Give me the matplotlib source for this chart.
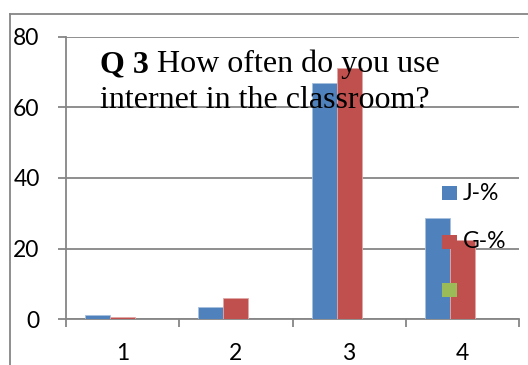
import matplotlib
matplotlib.use("Agg")
import matplotlib.pyplot as plt
import numpy as np
from matplotlib.lines import Line2D
from matplotlib.patches import Rectangle

categories = ["1", "2", "3", "4"]
j_pct = [1.2, 3.3, 66.9, 28.7]
g_pct = [0.6, 6.0, 71.1, 22.5]
series_names = ["J-%", "G-%", ""]
colors = ["#4F81BD", "#C0504D", "#9BBB59"]
y_ticks = [0, 20, 40, 60, 80]

W, H = 528, 365
fig = plt.figure(figsize=(W / 100, H / 100), dpi=100)
fig.patch.set_facecolor("white")

grid_col = "#868686"
ax = fig.add_axes([66 / W, 1 - 319 / H, (519 - 66) / W, (319 - 37) / H])
ax.set_xlim(0.5, 4.5)
ax.set_ylim(0, 80)

x = np.arange(1, len(categories) + 1)
bw = 25 / 113.3
ax.bar(x - bw, j_pct, width=bw, color=colors[0], edgecolor="#A7BFDE", linewidth=0.6, zorder=3)
ax.bar(x, g_pct, width=bw, color=colors[1], edgecolor="#DFA7A6", linewidth=0.6, zorder=3)

for s in ["top", "right"]:
    ax.spines[s].set_visible(False)
for s in ["left", "bottom"]:
    ax.spines[s].set_color(grid_col)
    ax.spines[s].set_linewidth(1.3)

ax.set_yticks(y_ticks)
ax.set_yticklabels([str(v) for v in y_ticks], fontname="Lato", fontsize=16.5)
ax.yaxis.grid(True, color=grid_col, linewidth=1.3, zorder=0)
ax.set_axisbelow(True)
ax.tick_params(axis="y", direction="out", length=6, width=1.3, color=grid_col, pad=13)

ax.set_xticks(x)
ax.set_xticklabels(categories, fontname="Lato", fontsize=16.5)
ax.set_xticks(np.arange(0.5, 4.6, 1.0), minor=True)
ax.tick_params(axis="x", which="major", length=0, pad=17)
ax.tick_params(axis="x", which="minor", direction="out", length=6, width=1.3, color=grid_col)

# outer chart frame
fig.add_artist(Line2D([10 / W, 10 / W], [0, 1 - 14 / H], color=grid_col, linewidth=1.3))
fig.add_artist(Line2D([10 / W, 1], [1 - 14 / H, 1 - 14 / H], color=grid_col, linewidth=1.3))

# title
t1 = fig.text(100 / W, 1 - 72 / H, "Q 3", fontname="Liberation Serif", fontsize=23,
              fontweight="bold", va="baseline", ha="left", zorder=5)
ax.annotate(" How often do you use", xy=(1, 0), xycoords=t1, va="bottom", ha="left",
            fontname="Liberation Serif", fontsize=23, zorder=5, annotation_clip=False)
fig.text(100 / W, 1 - 108 / H, "internet in the classroom?", fontname="Liberation Serif",
         fontsize=23, va="baseline", ha="left", zorder=5)

# legend
leg_y = [193, 242, 290]
for name, col, yy in zip(series_names, colors, leg_y):
    fig.add_artist(Rectangle((442 / W, 1 - (yy + 7.3) / H), 14.5 / W, 14.5 / H,
                             facecolor=col, edgecolor="none", zorder=6))
    if name:
        fig.text(463 / W, 1 - yy / H, name, fontname="Lato", fontsize=16.5,
                 va="center", ha="left", zorder=6)

fig.savefig("out.png", dpi=100)
